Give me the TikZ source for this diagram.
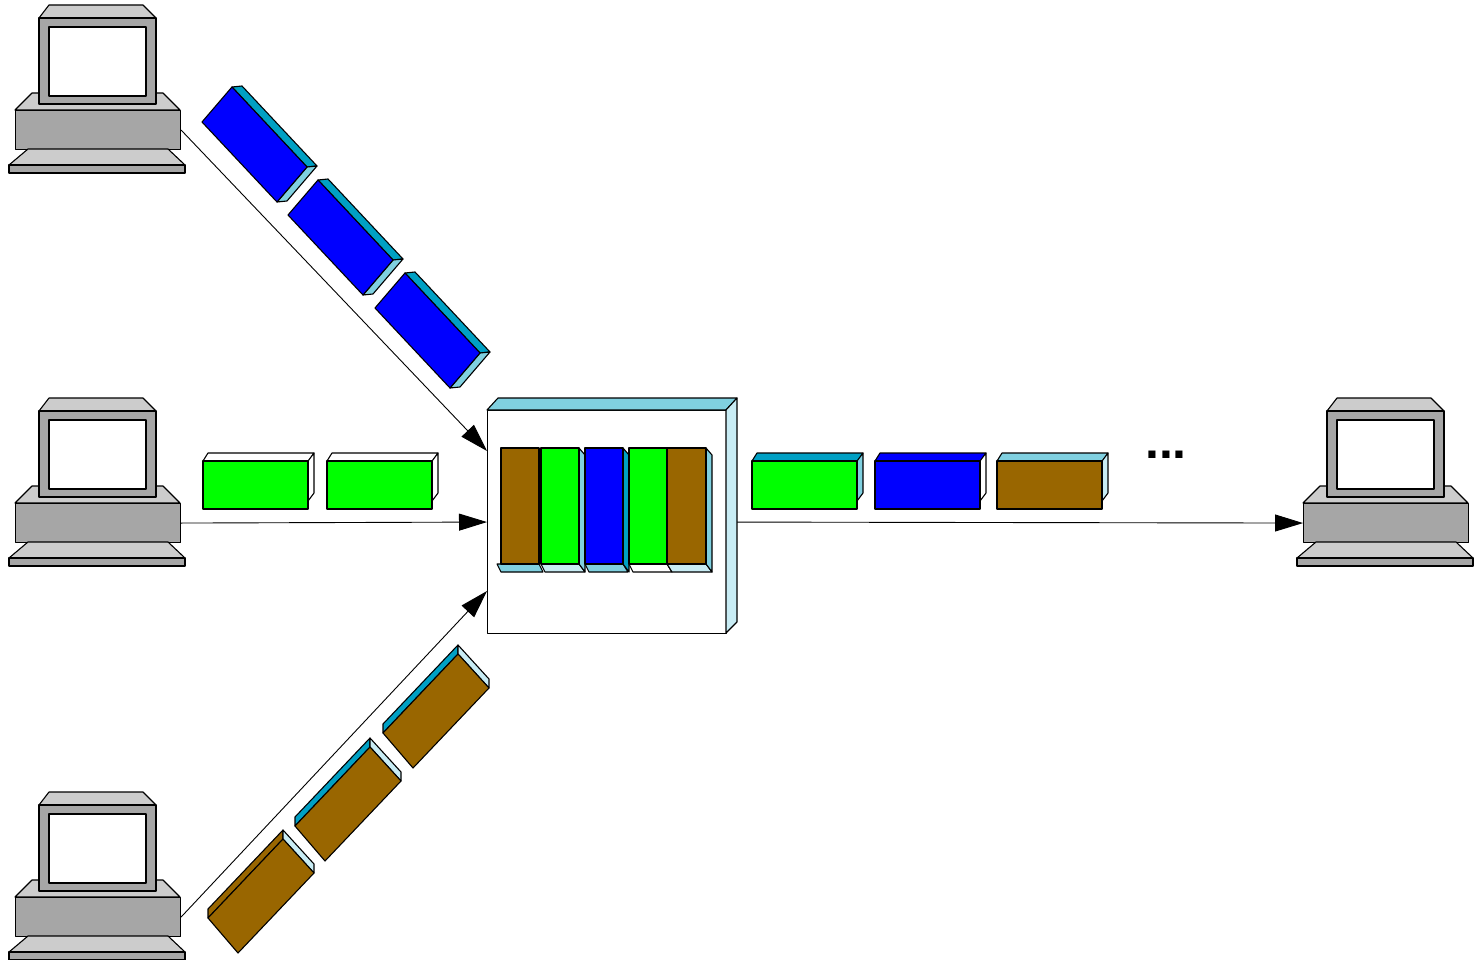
\documentclass[tikz,border=0pt]{standalone}
\usepackage{fontspec}
\setsansfont{Liberation Sans}
\usetikzlibrary{arrows.meta}

\definecolor{pcdark}{RGB}{166,166,166}
\definecolor{pclight}{RGB}{204,204,204}
\definecolor{pktbrown}{RGB}{153,102,0}
\definecolor{pktgreen}{RGB}{0,255,0}
\definecolor{pktblue}{RGB}{0,0,255}
\definecolor{tealface}{RGB}{0,160,196}
\definecolor{skyface}{RGB}{128,208,224}
\definecolor{paleface}{RGB}{200,236,244}

\tikzset{
  face/.style={draw=black, line width=1.1pt, line join=round},
  link/.style={draw=black, line width=0.9pt, -{Triangle[length=28pt,width=17pt]}},
  computer/.pic={
    % base top bevel
    \filldraw[face, fill=pclight] (32,93) -- (163,93) -- (180,110) -- (15,110) -- cycle;
    % base front
    \node[face, fill=pcdark, minimum width=165pt, minimum height=39pt, inner sep=0pt,
          anchor=north west] (-base) at (15,110) {};
    % keyboard
    \filldraw[face, fill=pclight] (28,149) -- (168,149) -- (185,165) -- (9,165) -- cycle;
    \filldraw[face, fill=pcdark] (9,165) rectangle (185,173);
    % monitor
    \filldraw[face, fill=pclight] (49,5) -- (143,5) -- (156,18) -- (39,18) -- cycle;
    \filldraw[face, fill=pcdark] (39,18) rectangle (156,104);
    \filldraw[face, fill=white] (49,27) rectangle (146,96);
  }
}

% flat packet seen from the front: x position, front, top and side colours
\newcommand\hpacket[4]{%
  \filldraw[face, fill=#3] (#1,461) -- ++(5,-8) -- ++(106,0) -- ++(-5,8) -- cycle;
  \filldraw[face, fill=#4] (#1+105,461) -- ++(6,-8) -- ++(0,40) -- ++(-6,8) -- cycle;
  \filldraw[face, fill=#2] (#1,461) rectangle (#1+105,509);
}

% packet travelling down-right
\newcommand\bluepacket[2]{%
  \begin{scope}[shift={(#1,#2)}]
    \filldraw[face, fill=tealface] (30,-35) -- (40,-36) -- (115,44) -- (105,45) -- cycle;
    \filldraw[face, fill=skyface] (105,45) -- (115,44) -- (85,79) -- (75,80) -- cycle;
    \filldraw[face, fill=pktblue] (0,0) -- (30,-35) -- (105,45) -- (75,80) -- cycle;
  \end{scope}}

% packet travelling up-right; #3 is the colour of its upper edge
\newcommand\brownpacket[3]{%
  \begin{scope}[shift={(#1,#2)}]
    \filldraw[face, fill=#3] (0,0) -- (0,-9) -- (75,-88) -- (75,-79) -- cycle;
    \filldraw[face, fill=paleface] (75,-79) -- (75,-88) -- (106,-54) -- (106,-45) -- cycle;
    \filldraw[face, fill=pktbrown] (0,0) -- (75,-79) -- (106,-45) -- (30,35) -- cycle;
  \end{scope}}

% queued packet inside the router: left, right, front colour
\newcommand\queuebar[3]{%
  \filldraw[face, fill=#3] (#1,448) rectangle (#2,564);
}

\begin{document}
\begin{tikzpicture}[x=1pt, y=-1pt]
  \useasboundingbox (0,0) rectangle (1475,960);

  % hosts
  \pic (pcA) at (0,0) {computer};
  \pic (pcB) at (0,393) {computer};
  \pic (pcC) at (0,787) {computer};
  \pic (pcD) at (1288,393) {computer};

  % router
  \node[face, fill=white, minimum width=239pt, minimum height=223pt, inner sep=0pt,
        anchor=north west] (router) at (487,410) {};
  \coordinate (inA) at (487,451);
  \coordinate (inC) at (487,591);

  % links
  \draw[link] (pcA-base.east) -- (inA);
  \draw[link] (pcB-base.east) -- (router.west);
  \draw[link] (pcC-base.east) -- (inC);
  \draw[link] (router.east) -- (pcD-base.west);

  % router 3D faces
  \filldraw[face, fill=skyface] (487,410) -- (498,398) -- (737,398) -- (726,410) -- cycle;
  \filldraw[face, fill=paleface] (726,410) -- (737,398) -- (737,622) -- (726,633) -- cycle;

  % queue inside the router
  \filldraw[face, fill=skyface]   (497,564) -- (539,564) -- (543,572) -- (501,572) -- cycle;
  \filldraw[face, fill=paleface]  (541,564) -- (579,564) -- (585,572) -- (545,572) -- cycle;
  \filldraw[face, fill=skyface]   (585,564) -- (623,564) -- (628,572) -- (589,572) -- cycle;
  \filldraw[face, fill=white]     (629,564) -- (667,564) -- (672,572) -- (633,572) -- cycle;
  \filldraw[face, fill=paleface]  (667,564) -- (706,564) -- (712,572) -- (672,572) -- cycle;
  \filldraw[face, fill=skyface]   (579,448) -- (585,455) -- (585,572) -- (579,564) -- cycle;
  \filldraw[face, fill=tealface]  (623,448) -- (629,455) -- (629,572) -- (623,564) -- cycle;
  \filldraw[face, fill=skyface]   (706,448) -- (712,455) -- (712,572) -- (706,564) -- cycle;
  \queuebar{501}{539}{pktbrown}
  \queuebar{541}{579}{pktgreen}
  \queuebar{585}{623}{pktblue}
  \queuebar{629}{667}{pktgreen}
  \queuebar{667}{706}{pktbrown}

  % incoming packets
  \bluepacket{202}{122}
  \bluepacket{288}{215}
  \bluepacket{375}{308}
  \hpacket{203}{pktgreen}{white}{white}
  \hpacket{327}{pktgreen}{white}{white}
  \brownpacket{208}{918}{pktbrown}
  \brownpacket{295}{826}{tealface}
  \brownpacket{383}{733}{tealface}

  % outgoing packets
  \hpacket{752}{pktgreen}{tealface}{skyface}
  \hpacket{875}{pktblue}{pktblue}{white}
  \hpacket{997}{pktbrown}{skyface}{paleface}

  \node[anchor=base, inner sep=0pt, font=\sffamily\bfseries\fontsize{50}{60}\selectfont]
    (more) at (1166,458) {...};
\end{tikzpicture}
\end{document}
